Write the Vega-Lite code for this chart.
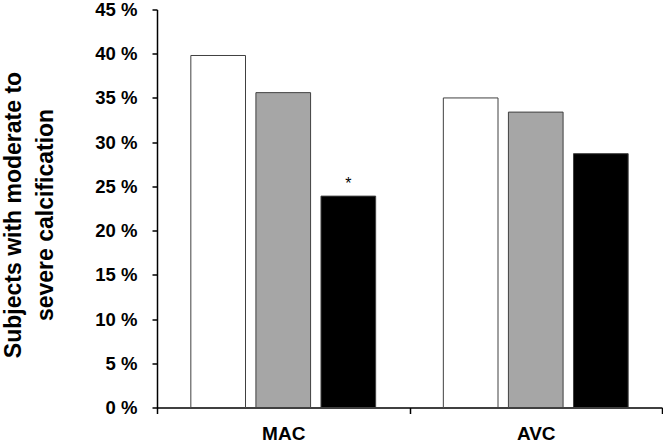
{
  "$schema": "https://vega.github.io/schema/vega-lite/v6.json",
  "width": 505,
  "height": 398,
  "autosize": {"type": "none"},
  "padding": {"left": 157, "top": 9.5, "right": 1, "bottom": 34.5},
  "background": "white",
  "config": {
    "view": {"stroke": null},
    "font": "Liberation Sans"
  },
  "data": {
    "values": [
      {"site": "MAC", "group": "A", "value": 39.8, "note": ""},
      {"site": "MAC", "group": "B", "value": 35.6, "note": ""},
      {"site": "MAC", "group": "C", "value": 23.9, "note": "*"},
      {"site": "AVC", "group": "A", "value": 35.0, "note": ""},
      {"site": "AVC", "group": "B", "value": 33.4, "note": ""},
      {"site": "AVC", "group": "C", "value": 28.7, "note": ""}
    ]
  },
  "encoding": {
    "x": {
      "field": "site",
      "type": "nominal",
      "sort": ["MAC", "AVC"],
      "scale": {"paddingInner": 0, "paddingOuter": 0},
      "axis": {
        "title": null,
        "labelAngle": 0,
        "labelFont": "Liberation Sans",
        "labelFontWeight": "bold",
        "labelFontSize": 19,
        "labelColor": "black",
        "labelBaseline": "alphabetic",
        "labelPadding": 26,
        "tickBand": "extent",
        "tickSize": 6,
        "tickWidth": 1.5,
        "tickColor": "black",
        "domainColor": "black",
        "domainWidth": 1.5
      }
    },
    "xOffset": {
      "field": "group",
      "type": "nominal",
      "scale": {"paddingInner": 0.16, "paddingOuter": 0.52}
    },
    "y": {
      "field": "value",
      "type": "quantitative",
      "scale": {"domain": [0, 45], "nice": false},
      "axis": {
        "title": ["Subjects with moderate to", "severe calcification"],
        "titleFont": "Liberation Sans",
        "titleFontWeight": "bold",
        "titleFontSize": 23,
        "titleColor": "black",
        "titlePadding": 37,
        "titleLineHeight": 32,
        "titleY": 205,
        "values": [0, 5, 10, 15, 20, 25, 30, 35, 40, 45],
        "labelExpr": "datum.value + ' %'",
        "labelFont": "Liberation Sans",
        "labelFontWeight": "bold",
        "labelFontSize": 18.5,
        "labelColor": "black",
        "labelPadding": 15,
        "tickSize": 5,
        "tickWidth": 1.5,
        "tickColor": "black",
        "domainColor": "black",
        "domainWidth": 1.5,
        "grid": false
      }
    }
  },
  "layer": [
    {
      "mark": {"type": "bar", "stroke": "#404040", "strokeWidth": 1},
      "encoding": {
        "fill": {
          "field": "group",
          "type": "nominal",
          "scale": {"domain": ["A", "B", "C"], "range": ["#ffffff", "#a6a6a6", "#000000"]},
          "legend": null
        }
      }
    },
    {
      "mark": {"type": "text", "baseline": "bottom", "dy": -4, "fontSize": 16, "font": "Liberation Sans", "color": "black"},
      "encoding": {
        "text": {"field": "note"}
      }
    }
  ]
}
